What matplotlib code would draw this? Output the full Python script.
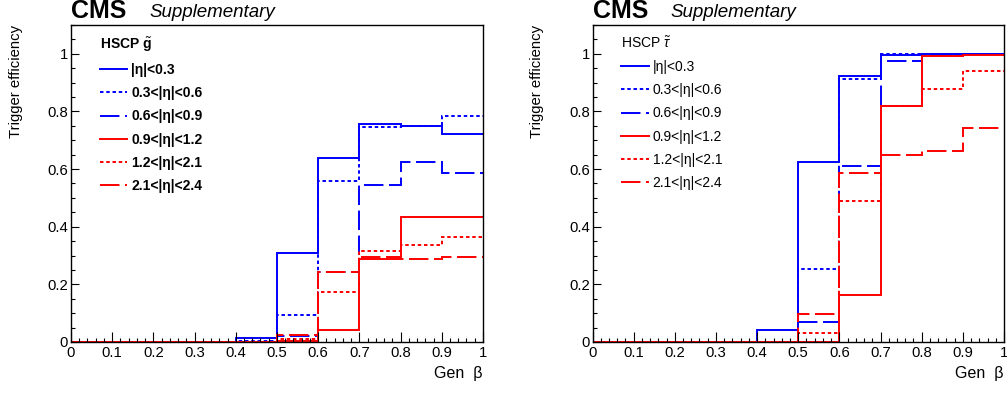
import numpy as np
import matplotlib
matplotlib.use('Agg')
import matplotlib.pyplot as plt
from matplotlib.ticker import MultipleLocator

plt.rcParams['font.family'] = ['Liberation Sans', 'DejaVu Sans']
plt.rcParams['mathtext.fontset'] = 'custom'
plt.rcParams['mathtext.rm'] = 'Liberation Sans'
plt.rcParams['mathtext.it'] = 'Liberation Sans:italic'
plt.rcParams['mathtext.bf'] = 'Liberation Sans:bold'
plt.rcParams['lines.scale_dashes'] = False

# bin edges in gen beta
edges = np.round(np.arange(0, 1.01, 0.1), 2)

eta_labels = ['|η|<0.3', '0.3<|η|<0.6', '0.6<|η|<0.9',
              '0.9<|η|<1.2', '1.2<|η|<2.1', '2.1<|η|<2.4']

# gluino
g_eta03 = [0, 0, 0, 0, 0.015, 0.31, 0.638, 0.757, 0.75, 0.72]
g_eta06 = [0, 0, 0, 0, 0.005, 0.094, 0.557, 0.745, 0.75, 0.785]
g_eta09 = [0, 0, 0, 0, 0, 0.022, 0.242, 0.545, 0.625, 0.588]
g_eta12 = [0, 0, 0, 0, 0, 0.005, 0.043, 0.287, 0.434, 0.434]
g_eta21 = [0, 0, 0, 0, 0, 0.01, 0.172, 0.314, 0.338, 0.363]
g_eta24 = [0, 0, 0, 0, 0, 0.025, 0.242, 0.294, 0.287, 0.296]

# stau
s_eta03 = [0, 0, 0, 0, 0.04, 0.626, 0.922, 0.997, 0.998, 0.998]
s_eta06 = [0, 0, 0, 0, 0, 0.253, 0.914, 0.999, 1.0, 1.0]
s_eta09 = [0, 0, 0, 0, 0, 0.069, 0.611, 0.976, 0.997, 1.0]
s_eta12 = [0, 0, 0, 0, 0, 0, 0.162, 0.82, 0.994, 0.996]
s_eta21 = [0, 0, 0, 0, 0, 0.031, 0.49, 0.818, 0.878, 0.941]
s_eta24 = [0, 0, 0, 0, 0, 0.097, 0.586, 0.649, 0.661, 0.743]

xtick_labels = ['0', '0.1', '0.2', '0.3', '0.4', '0.5', '0.6', '0.7', '0.8', '0.9', '1']
ytick_vals = [0, 0.2, 0.4, 0.6, 0.8, 1.0]
ytick_labels = ['0', '0.2', '0.4', '0.6', '0.8', '1']

colors = ['#0000ff', '#0000ff', '#0000ff', '#ff0000', '#ff0000', '#ff0000']
styles = [(), (2.5, 2.0), (14, 4), (), (2.5, 2.0), (14, 4)]

fig = plt.figure(figsize=(10.07, 3.94), dpi=100)
ax0 = fig.add_axes([0.0705, 0.132, 0.4091, 0.8046])
ax1 = fig.add_axes([0.5884, 0.132, 0.4086, 0.8046])

panels = [
    (ax0, [g_eta03, g_eta06, g_eta09, g_eta12, g_eta21, g_eta24],
     'HSCP $\\tilde{\\mathbf{g}}$', 'bold'),
    (ax1, [s_eta03, s_eta06, s_eta09, s_eta12, s_eta21, s_eta24],
     'HSCP $\\tilde{\\tau}$', 'normal'),
]

for ax, series, title, weight in panels:
    for vals, c, ds, lab in zip(series, colors, styles, eta_labels):
        st = ax.stairs(vals, edges, baseline=None, color=c, linewidth=1.4, label=lab)
        if ds:
            st.set_linestyle((0, ds))
    ax.set_xlim(0, 1)
    ax.set_ylim(0, 1.1)
    ax.set_xticks(edges)
    ax.set_xticklabels(xtick_labels)
    ax.set_yticks(ytick_vals)
    ax.set_yticklabels(ytick_labels)
    ax.xaxis.set_minor_locator(MultipleLocator(0.02))
    ax.yaxis.set_minor_locator(MultipleLocator(0.05))
    ax.tick_params(which='both', direction='in', top=False, right=False,
                   labelsize=10.7, width=0.8)
    ax.tick_params(axis='x', which='major', length=7.2, pad=3)
    ax.tick_params(axis='x', which='minor', length=3.2)
    ax.tick_params(axis='y', which='major', length=5.5, pad=2)
    ax.tick_params(axis='y', which='minor', length=3.2)
    for s in ax.spines.values():
        s.set_linewidth(1.0)
    ax.set_xlabel('Gen  β', fontsize=11.5, loc='right')
    ax.xaxis.set_label_coords(1.0, -0.075)
    ax.set_ylabel('Trigger efficiency', fontsize=10.7, loc='top')
    ax.yaxis.set_label_coords(-0.117, 1.0)

    leg = ax.legend(loc='upper left', bbox_to_anchor=(0.040, 1.007), frameon=False,
                    title=title, fontsize=10, title_fontsize=10,
                    handlelength=1.95, handletextpad=0.3, labelspacing=0.66,
                    alignment='left')
    leg.get_title().set_fontweight(weight)
    for t in leg.get_texts():
        t.set_fontweight(weight)

    ax.text(0.0, 1.021, 'CMS', transform=ax.transAxes, fontsize=18,
            fontweight='bold', ha='left', va='baseline')
    ax.text(0.19, 1.024, 'Supplementary', transform=ax.transAxes, fontsize=13.5,
            fontstyle='italic', ha='left', va='baseline')

fig.savefig('out.png', dpi=100)
